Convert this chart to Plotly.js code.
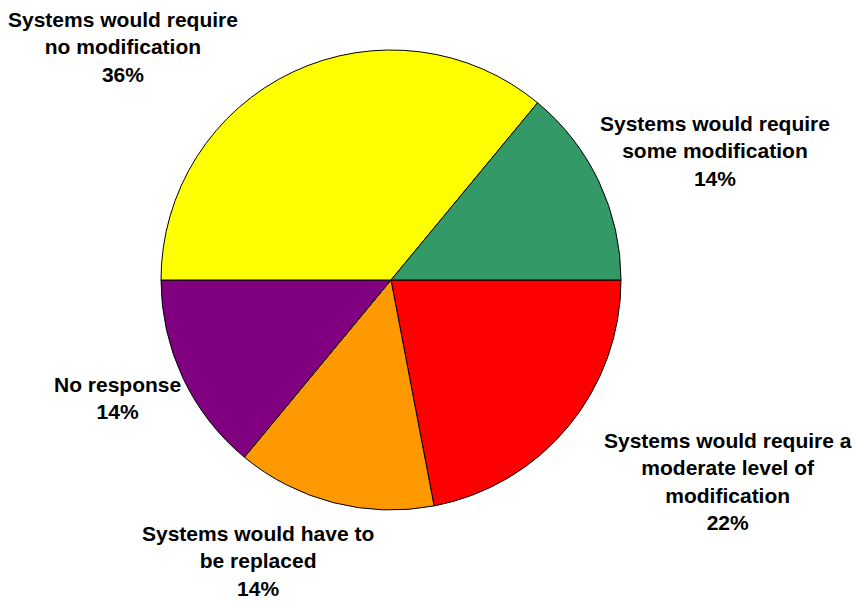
<!DOCTYPE html>
<html>
<head>
<meta charset="utf-8">
<script src="https://cdn.plot.ly/plotly-3.0.1.min.js"></script>
<style>html,body{margin:0;padding:0;background:#fff;}#chart{width:855px;height:602px;}</style>
</head>
<body>
<div id="chart"></div>
<script>
const categories = [
  "Systems would require a<br>moderate level of<br>modification",
  "Systems would have to<br>be replaced",
  "No response",
  "Systems would require<br>no modification",
  "Systems would require<br>some modification"
];
const values = [22, 14, 14, 36, 14];
const colors = ["#FF0000", "#FF9900", "#800080", "#FFFF00", "#339966"];
const labelPos = [
  [728, 481], [258, 561], [117, 398], [123, 47], [715, 151]
];

const W = 855, H = 602;
const cx = 391, cy = 280, r = 230;

const trace = {
  type: "pie",
  values: values,
  labels: categories.map(c => c.replace(/<br>/g, " ")),
  marker: { colors: colors, line: { color: "#000000", width: 1 } },
  sort: false,
  direction: "clockwise",
  rotation: 90,
  textinfo: "none",
  hoverinfo: "label+percent",
  domain: { x: [(cx - r) / W, (cx + r) / W], y: [(H - cy - r) / H, (H - cy + r) / H] }
};

const annotations = categories.map((c, i) => ({
  xref: "paper", yref: "paper",
  x: labelPos[i][0] / W, y: 1 - labelPos[i][1] / H,
  xanchor: "center", yanchor: "middle",
  showarrow: false,
  align: "center",
  text: "<b>" + c + "<br>" + values[i] + "%</b>",
  font: { family: "Liberation Sans, Arial, sans-serif", size: 21, color: "#000000" }
}));

const layout = {
  width: W, height: H,
  margin: { l: 0, r: 0, t: 0, b: 0 },
  showlegend: false,
  paper_bgcolor: "#ffffff",
  annotations: annotations
};

Plotly.newPlot("chart", [trace], layout, { displayModeBar: false, staticPlot: true });
</script>
</body>
</html>
